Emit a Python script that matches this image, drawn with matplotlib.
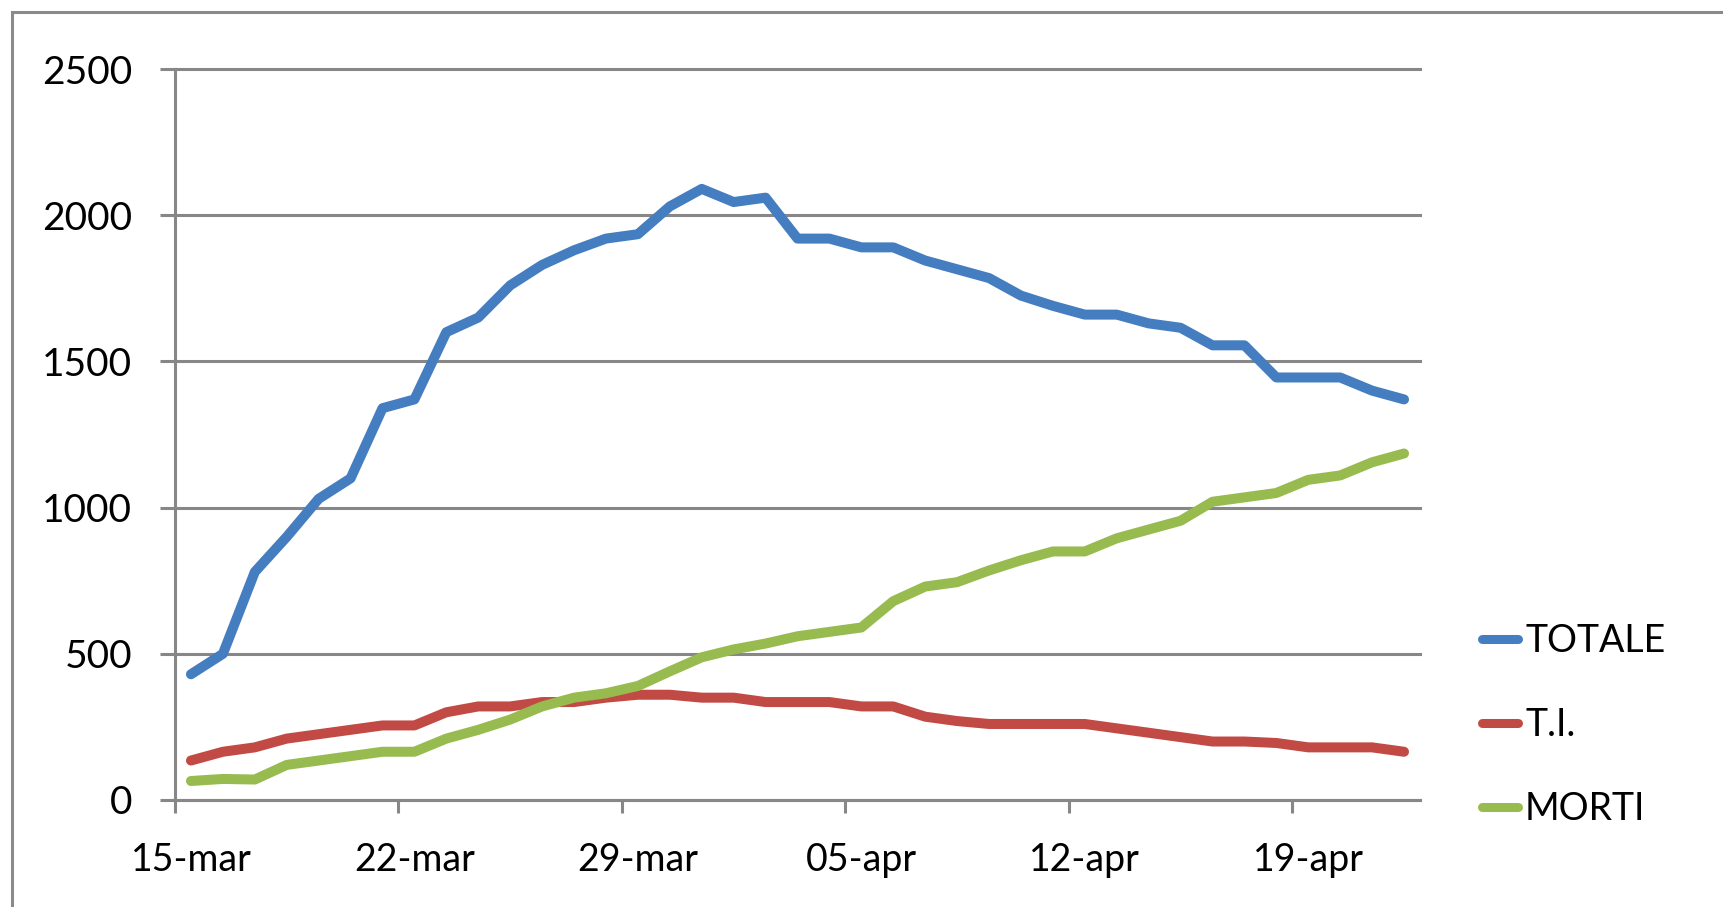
import matplotlib
matplotlib.use("Agg")
import matplotlib.pyplot as plt
import matplotlib.patches as patches
import numpy as np
import pandas as pd

dates = pd.date_range("2020-03-15", "2020-04-22", freq="D")
month_it = {3: "mar", 4: "apr"}
date_labels = [f"{d.day:02d}-{month_it[d.month]}" for d in dates]

totale = [430, 500, 780, 900, 1030, 1100, 1340, 1370, 1600, 1650,
          1760, 1830, 1880, 1920, 1935, 2030, 2090, 2045, 2060, 1920,
          1920, 1890, 1890, 1845, 1815, 1785, 1725, 1690, 1660, 1660,
          1630, 1615, 1555, 1555, 1445, 1445, 1445, 1400, 1370]
ti = [135, 165, 180, 210, 225, 240, 255, 255, 300, 320,
      320, 335, 335, 350, 360, 360, 350, 350, 335, 335,
      335, 320, 320, 285, 270, 260, 260, 260, 260, 245,
      230, 215, 200, 200, 195, 180, 180, 180, 165]
morti = [65, 72, 70, 120, 135, 150, 165, 165, 210, 240,
         275, 320, 350, 365, 390, 440, 488, 515, 535, 560,
         575, 590, 680, 730, 745, 785, 820, 850, 850, 895,
         925, 955, 1020, 1035, 1050, 1095, 1110, 1155, 1185]
series_names = ["TOTALE", "T.I.", "MORTI"]
colors = ["#447DC0", "#C24A44", "#97BB4E"]
yticks = [0, 500, 1000, 1500, 2000, 2500]

plt.rcParams['font.family'] = ['Lato', 'DejaVu Sans']

W, H = 1724, 907
fig = plt.figure(figsize=(W / 100, H / 100), dpi=100)
ax = fig.add_axes([175 / W, 1 - 800 / H, (1420 - 175) / W, (800 - 69) / H])

x = np.arange(len(dates))
grid_c = "#878787"
for vals, name, c in zip([totale, ti, morti], series_names, colors):
    ax.plot(x, vals, color=c, lw=7.2, label=name,
            solid_capstyle='round', solid_joinstyle='round', zorder=3)

ax.set_xlim(-0.5, len(dates) - 0.5)
ax.set_ylim(0, 2500)
ax.set_yticks(yticks)
ax.set_yticklabels([str(v) for v in yticks], fontsize=28)

major = np.arange(-0.5, len(dates) - 1, 7)
ax.set_xticks(major)
ax.set_xticklabels([])
minor = np.arange(0, len(dates), 7)
ax.set_xticks(minor, minor=True)
ax.set_xticklabels([date_labels[i] for i in minor], minor=True, fontsize=27)

ax.tick_params(axis='y', length=11, width=2.2, color=grid_c, pad=20)
ax.tick_params(axis='x', which='major', length=9.5, width=2.2, color=grid_c)
ax.tick_params(axis='x', which='minor', length=0, pad=30)

for s in ['top', 'right']:
    ax.spines[s].set_visible(False)
for s in ['left', 'bottom']:
    ax.spines[s].set_color(grid_c)
    ax.spines[s].set_linewidth(2.2)

ax.yaxis.grid(True, color=grid_c, lw=2.2)
for gl in ax.get_ygridlines():
    gl.set_clip_on(False)
ax.set_axisbelow(True)

leg = fig.legend(loc='center left', bbox_to_anchor=(1482 / W, 1 - 725 / H),
                 frameon=False, fontsize=27, handlelength=0.95,
                 handletextpad=0.2, labelspacing=1.28, borderpad=0,
                 borderaxespad=0)
for lh in leg.get_lines():
    lh.set_linewidth(6.5)
    lh.set_solid_capstyle('round')

frame = patches.Rectangle((12 / W, -0.05), 1.2, 1 - 12 / H + 0.05,
                          transform=fig.transFigure, fill=False,
                          edgecolor="#8a8a8a", lw=2.2, clip_on=False)
fig.patches.append(frame)

fig.savefig("out.png", dpi=100)
